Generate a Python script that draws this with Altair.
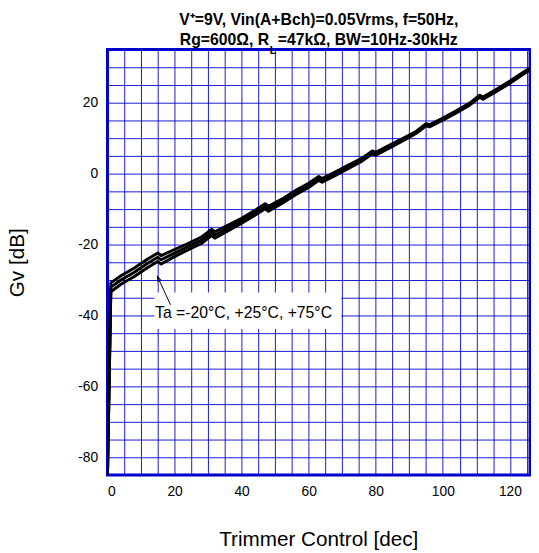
import altair as alt
import pandas as pd

# ---- data ----
trim = [0, 1, 4, 8, 12, 15, 16, 20, 24, 28, 31, 32, 36, 40, 44, 47, 48, 52, 56, 60,
        63, 64, 68, 72, 76, 79, 80, 84, 88, 92, 95, 96, 100, 104, 108, 111, 112, 116, 120, 124, 126]
gv_m20 = [-85, -30.8, -28.8, -26.6, -24.1, -22.4, -23.1, -21.4, -19.7, -17.9, -15.7, -16.4, -14.5,
          -12.6, -10.3, -8.5, -9.2, -7.2, -4.8, -2.7, -0.8, -1.4, 0.5, 2.5, 4.4, 6.4, 6.0, 8.0, 9.9,
          11.9, 14.1, 13.8, 15.7, 17.7, 19.9, 22.1, 21.6, 23.8, 26.1, 28.6, 29.8]
gv_p25 = [-85, -32.0, -30.0, -27.8, -25.3, -23.6, -24.3, -22.4, -20.6, -18.8, -16.6, -17.3, -15.3,
          -13.3, -11.0, -9.2, -9.9, -7.8, -5.4, -3.3, -1.4, -1.9, 0.0, 2.0, 4.0, 6.0, 5.6, 7.6, 9.6,
          11.6, 13.8, 13.5, 15.4, 17.4, 19.6, 21.8, 21.3, 23.5, 25.8, 28.3, 29.5]
gv_p75 = [-85, -33.3, -31.2, -29.0, -26.5, -24.8, -25.5, -23.4, -21.5, -19.7, -17.5, -18.2, -16.1,
          -14.0, -11.7, -9.9, -10.6, -8.4, -6.0, -3.9, -1.9, -2.4, -0.5, 1.5, 3.6, 5.6, 5.2, 7.2, 9.2,
          11.3, 13.5, 13.2, 15.1, 17.1, 19.3, 21.5, 21.0, 23.2, 25.5, 28.0, 29.2]
temps = ["-20C", "+25C", "+75C"]

x_grid = list(range(0, 130, 5))
y_grid = list(range(-85, 40, 5))

title_lines = ["V\u207a=9V, Vin(A+Bch)=0.05Vrms, f=50Hz,",
               "Rg=600\u03a9, R\u00a0\u00a0=47k\u03a9, BW=10Hz-30kHz"]
annot_text = ["Ta =-20\u00b0C, +25\u00b0C, +75\u00b0C"]

rows = []
for t, series in zip(temps, [gv_m20, gv_p25, gv_p75]):
    for xv, yv in zip(trim, series):
        rows.append({"trim": xv, "gv": yv, "temp": t})
df = pd.DataFrame(rows)

BLUE = "#0000CC"
FONT = "Liberation Sans"

xscale = alt.Scale(domain=[0, 126], nice=False, zero=False)
yscale = alt.Scale(domain=[-85, 35], nice=False, zero=False)

xaxis = alt.Axis(values=x_grid, title="Trimmer Control [dec]",
                 labelExpr="datum.value % 20 === 0 ? '' + datum.value : ''",
                 labelPadding=10, titleX=214, titleY=66, titleBaseline="middle",
                 titleAlign="center")
yaxis = alt.Axis(values=y_grid, title="Gv [dB]",
                 labelExpr="(datum.value % 20 === 0 && datum.value >= -80 && datum.value <= 20) ? '' + datum.value : ''",
                 labelPadding=10, titleX=-91, titleY=216, titleBaseline="middle",
                 titleAlign="center", titleAngle=-90)

lines = alt.Chart(df).mark_line(color="black", strokeWidth=3, clip=True, strokeJoin="round").encode(
    x=alt.X("trim:Q", scale=xscale, axis=xaxis),
    y=alt.Y("gv:Q", scale=yscale, axis=yaxis),
    detail="temp:N",
)

box_df = pd.DataFrame({"x0": [14.0], "x1": [69.7], "y0": [-33.5], "y1": [-43.8]})
box = alt.Chart(box_df).mark_rect(color="white").encode(
    x=alt.X("x0:Q", scale=xscale, axis=xaxis), x2="x1:Q",
    y=alt.Y("y0:Q", scale=yscale, axis=yaxis), y2="y1:Q")

arrow_df = pd.DataFrame({"xt": [18.8], "yt": [-37.0], "xh": [14.9], "yh": [-29.0]})
arrow_line = alt.Chart(arrow_df).mark_rule(color="black", strokeWidth=1).encode(
    x=alt.X("xt:Q", scale=xscale, axis=xaxis), y=alt.Y("yt:Q", scale=yscale, axis=yaxis),
    x2="xh:Q", y2="yh:Q")
arrow_head = alt.Chart(arrow_df).mark_point(
    shape="M -0.45 1.4 L 0 0 L 0.45 1.4", filled=False, color="black", strokeWidth=1,
    size=60, angle=336, opacity=1).encode(
    x=alt.X("xh:Q", scale=xscale, axis=xaxis), y=alt.Y("yh:Q", scale=yscale, axis=yaxis))

text_df = pd.DataFrame({"x": [14.2], "y": [-39.2], "label": annot_text})
label = alt.Chart(text_df).mark_text(align="left", baseline="middle", fontSize=16,
                                     font=FONT, color="black").encode(
    x=alt.X("x:Q", scale=xscale, axis=xaxis), y=alt.Y("y:Q", scale=yscale, axis=yaxis),
    text="label:N")

sub_df = pd.DataFrame({"s": ["L"]})
sub = alt.Chart(sub_df).mark_text(fontSize=11, fontWeight="bold", font=FONT, color="black",
                                  align="center", baseline="middle", clip=False).encode(
    x=alt.value(168), y=alt.value(1.5), text="s:N")

chart = alt.layer(lines, box, arrow_line, arrow_head, label, sub).properties(
    width=429, height=432,
    autosize=alt.AutoSizeParams(type="none"),
    padding={"left": 101, "top": 38, "right": 1, "bottom": 75},
    title=alt.TitleParams(text=title_lines, fontSize=16, fontWeight="bold", font=FONT,
                          anchor="middle", offset=-3, lineHeight=20, color="black"),
).configure_view(stroke=BLUE, strokeWidth=3).configure_axis(
    grid=True, gridColor=BLUE, gridWidth=1, gridOpacity=0.9, domain=False, ticks=False,
    labelFont=FONT, labelFontSize=14, labelColor="black",
    titleFont=FONT, titleFontSize=21, titleFontWeight="normal", titleColor="black")

chart.save("out.html", embed_options={"renderer": "svg", "actions": False})
